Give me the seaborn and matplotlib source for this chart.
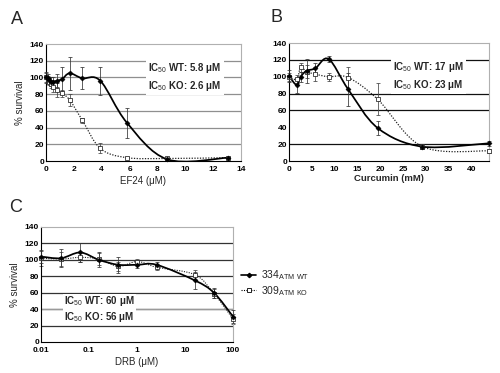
import numpy as np
import pandas as pd
import matplotlib
matplotlib.use("Agg")
import matplotlib.pyplot as plt
import seaborn as sns
from matplotlib.path import Path
from matplotlib.patches import PathPatch
from matplotlib.lines import Line2D

sns.set_theme(style="white")
plt.rcParams["font.family"] = ["Liberation Sans", "DejaVu Sans"]
plt.rcParams["mathtext.fontset"] = "custom"
plt.rcParams["mathtext.rm"] = "Liberation Sans"
plt.rcParams["mathtext.bf"] = "Liberation Sans:bold"

# ---------------- data ----------------
ef24_dose = [0, 0.15, 0.23, 0.34, 0.51, 0.77, 1.15, 1.7, 2.6, 3.9, 5.8, 8.7, 13.1]
ef24_wt = [100, 99, 97, 95, 95, 96, 98, 105, 99, 96, 46, 2, 4]
ef24_wt_err = [7, 5, 4, 5, 6, 8, 14, 20, 13, 17, 18, 1, 1]
ef24_ko = [100, 98, 95, 92, 88, 85, 81, 73, 49, 15, 4, 3, 4]
ef24_ko_err = [5, 4, 4, 5, 6, 8, 4, 7, 3, 6, 1, 1, 1]

cur_dose = [0, 1.7, 2.57, 3.85, 5.8, 8.7, 13, 19.5, 29.3, 43.9]
cur_wt = [101, 90, 100, 107, 110, 121, 85, 39, 17, 21]
cur_wt_err = [7, 9, 6, 14, 6, 3, 20, 8, 3, 3]
cur_ko = [100, 97, 111, 106, 103, 100, 99, 73, 17, 12]
cur_ko_err = [5, 5, 5, 8, 8, 5, 13, 19, 3, 2]

drb_dose = [0.01, 0.026, 0.066, 0.16, 0.41, 1.02, 2.56, 16, 40, 100]
drb_wt = [104, 102, 109, 100, 94, 94, 94, 75, 60, 31]
drb_wt_err = [8, 11, 11, 9, 10, 4, 4, 10, 6, 8]
drb_ko = [102, 101, 103, 101, 92, 98, 91, 82, 59, 28]
drb_ko_err = [9, 8, 6, 7, 6, 3, 3, 6, 5, 6]

ic50_a = ["5.8", "2.6"]
ic50_b = ["17", "23"]
ic50_c = ["60", "56"]
legend_labels = ["334$_{\\mathregular{ATM\\ WT}}$", "309$_{\\mathregular{ATM\\ KO}}$"]


def smooth_patch(x, y, logx=False, **kw):
    xs = np.log10(np.asarray(x, float)) if logx else np.asarray(x, float)
    ys = np.asarray(y, float)
    P = np.column_stack([xs, ys])
    n = len(P)
    verts = [P[0]]
    codes = [Path.MOVETO]
    for i in range(n - 1):
        p0 = P[max(i - 1, 0)]
        p1 = P[i]
        p2 = P[i + 1]
        p3 = P[min(i + 2, n - 1)]
        c1 = p1 + (p2 - p0) / 6.0
        c2 = p2 - (p3 - p1) / 6.0
        verts += [c1, c2, p2]
        codes += [Path.CURVE4] * 3
    verts = np.array(verts)
    if logx:
        verts[:, 0] = 10 ** verts[:, 0]
    return PathPatch(Path(verts, codes), fill=False, **kw)


fig = plt.figure(figsize=(5.0, 3.73), dpi=100)
W, H = 500, 373


def add_axes(l, r, t, b):
    return fig.add_axes([l / W, 1 - b / H, (r - l) / W, (b - t) / H])


axA = add_axes(46, 241, 44, 161)
axB = add_axes(289, 489, 43, 161)
axC = add_axes(41, 233, 227, 342)


def draw(ax, dose, wt, wt_err, ko, ko_err, logx=False, grid_levels=(20, 40, 60, 80, 100, 120),
         grid_color="#8a8a8a", ko_lw=0.9):
    for g in grid_levels:
        ax.axhline(g, color=grid_color, lw=0.9, zorder=0)
    df = pd.DataFrame({"dose": dose, "wt": wt, "ko": ko})
    ax.add_patch(smooth_patch(dose, ko, logx=logx, edgecolor="#222222", lw=ko_lw,
                              linestyle=(0, (1.0, 1.2)), zorder=2))
    ax.add_patch(smooth_patch(dose, wt, logx=logx, edgecolor="black", lw=1.25, zorder=3))
    ax.errorbar(dose, ko, yerr=ko_err, fmt="none", ecolor="#444444", elinewidth=0.55,
                capsize=1.5, capthick=0.55, zorder=2, clip_on=False)
    ax.errorbar(dose, wt, yerr=wt_err, fmt="none", ecolor="#333333", elinewidth=0.55,
                capsize=1.5, capthick=0.55, zorder=3, clip_on=False)
    sns.scatterplot(data=df, x="dose", y="ko", ax=ax, marker="s", s=8, facecolor="white",
                    edgecolor="#222222", linewidth=0.55, zorder=4, clip_on=False)
    sns.scatterplot(data=df, x="dose", y="wt", ax=ax, marker="D", s=7, color="black",
                    edgecolor="black", linewidth=0.3, zorder=5, clip_on=False)
    ax.set_ylim(0, 140)
    ax.set_yticks(range(0, 141, 20))
    for side in ["top", "right"]:
        ax.spines[side].set_color("#b0b0b0")
        ax.spines[side].set_linewidth(0.8)
    for side in ["left", "bottom"]:
        ax.spines[side].set_color("black")
        ax.spines[side].set_linewidth(0.8)
    ax.tick_params(axis="both", labelsize=6, pad=1.5, length=2, width=0.6,
                   direction="out", colors="black")
    ax.tick_params(axis="y", length=0)
    for lab in ax.get_xticklabels() + ax.get_yticklabels():
        lab.set_fontweight("bold")
    ax.set_ylabel("")
    ax.set_xlabel("")


draw(axA, ef24_dose, ef24_wt, ef24_wt_err, ef24_ko, ef24_ko_err, grid_color="#8f8f8f")
axA.set_xlim(0, 14)
axA.set_xticks(range(0, 15, 2))
axA.set_xlabel("EF24 (\u03bcM)", fontsize=7, labelpad=2)
axA.set_ylabel("% survival", fontsize=7, labelpad=3)

draw(axB, cur_dose, cur_wt, cur_wt_err, cur_ko, cur_ko_err,
     grid_levels=(20, 60, 80, 120), grid_color="#111111")
axB.set_xlim(0, 43.9)
axB.set_xticks(range(0, 41, 5))
axB.set_xlabel("Curcumin (mM)", fontsize=6.8, labelpad=0.5, fontweight="bold")

draw(axC, drb_dose, drb_wt, drb_wt_err, drb_ko, drb_ko_err, logx=True,
     grid_color="#333333", ko_lw=0.8)
axC.axhline(40, color="#9a9a9a", lw=0.9, zorder=0.5)
axC.set_xscale("log")
axC.set_xlim(0.01, 100)
axC.set_xticks([0.01, 0.1, 1, 10, 100])
axC.set_xticklabels(["0.01", "0.1", "1", "10", "100"])
axC.minorticks_off()
axC.set_xlabel("DRB (\u03bcM)", fontsize=7, labelpad=2)
axC.set_ylabel("% survival", fontsize=7, labelpad=3)
for lab in axC.get_xticklabels() + axC.get_yticklabels():
    lab.set_fontweight("bold")


def ic_text(ax, x, y, vals, ls=1.35, pad=1.5):
    ax.text(x, y, "IC$_{50}$ WT: %s \u03bcM\nIC$_{50}$ KO: %s \u03bcM" % (vals[0], vals[1]),
            transform=ax.transAxes, fontsize=7, fontweight="bold", va="center", ha="left",
            linespacing=ls, zorder=6,
            bbox=dict(facecolor="white", edgecolor="none", pad=pad))


ic_text(axA, 0.525, 0.72, ic50_a)
ic_text(axB, 0.52, 0.72, ic50_b)
ic_text(axC, 0.12, 0.285, ic50_c, ls=1.15, pad=0.6)

handles = [
    Line2D([], [], color="black", lw=1.2, marker="D", markersize=2.2, markerfacecolor="black"),
    Line2D([], [], color="black", lw=0.8, linestyle=(0, (1.0, 1.2)), marker="s", markersize=2.6,
           markerfacecolor="white", markeredgewidth=0.6),
]
fig.legend(handles, legend_labels, loc="center left", bbox_to_anchor=(236 / W, 1 - 283 / H),
           frameon=False, fontsize=7.5, handlelength=1.4, handletextpad=0.5, labelspacing=0.2,
           borderpad=0)

fig.text(11 / W, 1 - 19 / H, "A", fontsize=13, va="center", ha="left")
fig.text(271 / W, 1 - 18 / H, "B", fontsize=13, va="center", ha="left")
fig.text(9 / W, 1 - 207 / H, "C", fontsize=13, va="center", ha="left")

fig.savefig("out.png", dpi=100)
